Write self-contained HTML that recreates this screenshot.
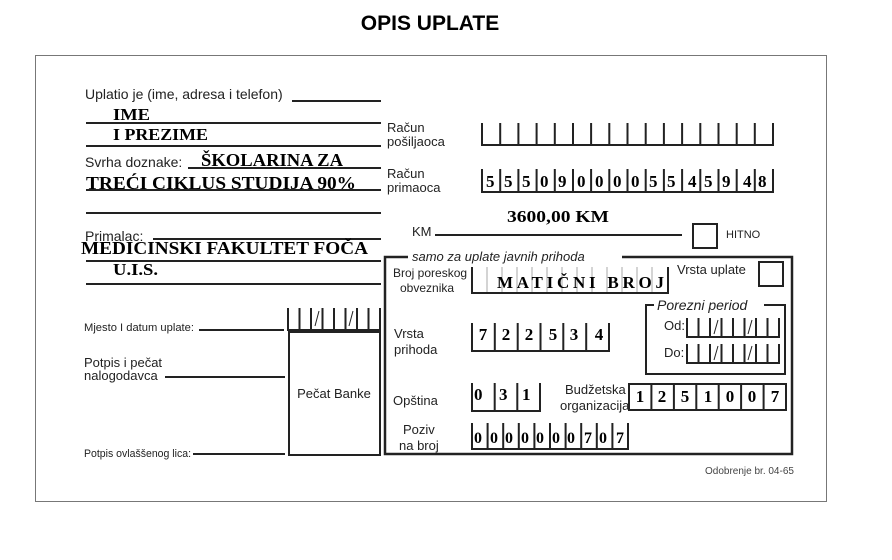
<!DOCTYPE html>
<html><head><meta charset="utf-8"><style>
html,body{margin:0;padding:0;background:#fff;}
svg{display:block;}
text{font-family:"Liberation Sans",sans-serif;fill:#222;}
.s{font-family:"Liberation Serif",serif;font-weight:bold;fill:#000;}
</style></head><body>
<svg width="892" height="560" viewBox="0 0 892 560" xmlns="http://www.w3.org/2000/svg">
<text x="430" y="30" text-anchor="middle" style="font-weight:bold;font-size:21px;fill:#000">OPIS UPLATE</text>
<rect x="35.5" y="55.5" width="791" height="446" fill="none" stroke="#777" stroke-width="1"/>

<g stroke="#222" stroke-width="2" fill="none">
<path d="M292 101H381 M86 123H381 M86 146H381 M188 168H381 M86 190H381 M86 213H381 M153 239H381 M86 261H381 M86 284H381"/>
<path d="M199 330H284 M165 377H285 M193 454H285"/>
<path d="M435 235H682"/>
</g>
<g fill="#222" style="font-size:14px">
<text x="85" y="99">Uplatio je (ime, adresa i telefon)</text>
<text x="85" y="167">Svrha doznake:</text>
<text x="85" y="241">Primalac:</text>
</g>
<g class="s">
<text class="s" x="113" y="120" font-size="17" textLength="37" lengthAdjust="spacingAndGlyphs">IME</text>
<text class="s" x="113" y="140" font-size="17" textLength="95" lengthAdjust="spacingAndGlyphs">I PREZIME</text>
<text class="s" x="201" y="166" font-size="18" textLength="142" lengthAdjust="spacingAndGlyphs">ŠKOLARINA ZA</text>
<text class="s" x="86" y="189" font-size="18" textLength="270" lengthAdjust="spacingAndGlyphs">TREĆI CIKLUS STUDIJA  90%</text>
<text class="s" x="81" y="254" font-size="18" textLength="287" lengthAdjust="spacingAndGlyphs">MEDICINSKI FAKULTET FOČA</text>
<text class="s" x="113" y="275" font-size="17" textLength="45" lengthAdjust="spacingAndGlyphs">U.I.S.</text>
<text class="s" x="507" y="222" font-size="17" textLength="102" lengthAdjust="spacingAndGlyphs">3600,00 KM</text>
</g>

<g style="font-size:13px">
<text x="387" y="132">Račun</text><text x="387" y="146">pošiljaoca</text>
<text x="387" y="178">Račun</text><text x="387" y="192">primaoca</text>
<text x="412" y="236">KM</text>
</g>
<g stroke="#222" stroke-width="2" fill="none">
<path d="M482 123V145H773V123 M500.2 123V145 M518.4 123V145 M536.6 123V145 M554.8 123V145 M573 123V145 M591.1 123V145 M609.3 123V145 M627.5 123V145 M645.7 123V145 M663.9 123V145 M682.1 123V145 M700.3 123V145 M718.5 123V145 M736.7 123V145 M754.8 123V145"/>
<path d="M482 169V192H773V169 M500.2 169V192 M518.4 169V192 M536.6 169V192 M554.8 169V192 M573 169V192 M591.1 169V192 M609.3 169V192 M627.5 169V192 M645.7 169V192 M663.9 169V192 M682.1 169V192 M700.3 169V192 M718.5 169V192 M736.7 169V192 M754.8 169V192"/>
<rect x="693" y="224" width="24" height="24"/>
</g>
<g class="s" font-size="17">
<text class="s" x="486" y="187">5</text><text class="s" x="504" y="187">5</text><text class="s" x="522" y="187">5</text><text class="s" x="540" y="187">0</text><text class="s" x="558" y="187">9</text><text class="s" x="577" y="187">0</text><text class="s" x="595" y="187">0</text><text class="s" x="613" y="187">0</text><text class="s" x="631" y="187">0</text><text class="s" x="649" y="187">5</text><text class="s" x="667" y="187">5</text><text class="s" x="688" y="187">4</text><text class="s" x="704" y="187">5</text><text class="s" x="722" y="187">9</text><text class="s" x="743" y="187">4</text><text class="s" x="758" y="187">8</text>
</g>
<text x="726" y="238" style="font-size:11px">HITNO</text>

<path d="M408 257H385V454H792V257H622" fill="none" stroke="#222" stroke-width="2.5"/>
<text x="412" y="261" style="font-size:13px;font-style:italic">samo za uplate javnih prihoda</text>
<g style="font-size:12px">
<text x="393" y="277">Broj poreskog</text><text x="400" y="292">obveznika</text>
</g>
<g stroke="#aaa" stroke-width="1"><path d="M487 267V293 M502 267V293 M517 267V293 M532 267V293 M547 267V293 M562 267V293 M577 267V293 M592 267V293 M607 267V293 M622 267V293 M637 267V293 M652 267V293"/></g>
<path d="M472 267V293H668V267" fill="none" stroke="#222" stroke-width="2"/>
<text class="s" x="497" y="288" font-size="17" textLength="167" lengthAdjust="spacing">MATIČNI BROJ</text>
<text x="677" y="274" style="font-size:13px">Vrsta uplate</text>
<rect x="759" y="262" width="24" height="24" fill="none" stroke="#222" stroke-width="2"/>

<path d="M654 305H646V374H785V305H764" fill="none" stroke="#222" stroke-width="2"/>
<text x="657" y="310" style="font-size:14px;font-style:italic">Porezni period</text>
<text x="664" y="330" style="font-size:13px">Od:</text>
<text x="664" y="357" style="font-size:13px">Do:</text>
<g stroke="#222" stroke-width="2" fill="none">
<path d="M687 318V337H779V318 M698.5 318V337 M710 318V337 M721.5 318V337 M733 318V337 M744.5 318V337 M756 318V337 M767.5 318V337"/>
<path d="M687 344V363H779V344 M698.5 344V363 M710 344V363 M721.5 344V363 M733 344V363 M744.5 344V363 M756 344V363 M767.5 344V363"/>
<path d="M288 308V330H380V308 M299.5 308V330 M311 308V330 M322.5 308V330 M334 308V330 M345.5 308V330 M357 308V330 M368.5 308V330"/>
</g>
<g stroke="#222" stroke-width="1"><path d="M718 320L714 334 M752 320L748 334 M718 346L714 360 M752 346L748 360 M319 311L315 326 M353 311L349 326"/></g>

<g style="font-size:13px">
<text x="394" y="338">Vrsta</text><text x="394" y="354">prihoda</text>
<text x="393" y="405">Opština</text>
<text x="565" y="394">Budžetska</text><text x="560" y="410">organizacija</text>
<text x="403" y="434">Poziv</text><text x="399" y="450">na broj</text>
</g>
<g stroke="#222" stroke-width="2" fill="none">
<path d="M472 323V351H609V323 M494.8 323V351 M517.7 323V351 M540.5 323V351 M563.3 323V351 M586.2 323V351"/>
<path d="M472 383V411H540V383 M494.7 383V411 M517.3 383V411"/>
<rect x="629" y="384" width="157" height="26"/>
<path d="M651.4 384V410 M673.9 384V410 M696.3 384V410 M718.7 384V410 M741.1 384V410 M763.6 384V410"/>
<path d="M472 423V449H628V423 M487.6 423V449 M503.2 423V449 M518.8 423V449 M534.4 423V449 M550 423V449 M565.6 423V449 M581.2 423V449 M596.8 423V449 M612.4 423V449"/>
</g>
<g font-size="17">
<text class="s" x="483" y="340" text-anchor="middle">7</text><text class="s" x="506" y="340" text-anchor="middle">2</text><text class="s" x="529" y="340" text-anchor="middle">2</text><text class="s" x="553" y="340" text-anchor="middle">5</text><text class="s" x="574" y="340" text-anchor="middle">3</text><text class="s" x="599" y="340" text-anchor="middle">4</text>
<text class="s" x="474" y="400">0</text><text class="s" x="499" y="400">3</text><text class="s" x="522" y="400">1</text>
<text class="s" x="640" y="402" text-anchor="middle">1</text><text class="s" x="662" y="402" text-anchor="middle">2</text><text class="s" x="685" y="402" text-anchor="middle">5</text><text class="s" x="708" y="402" text-anchor="middle">1</text><text class="s" x="730" y="402" text-anchor="middle">0</text><text class="s" x="752" y="402" text-anchor="middle">0</text><text class="s" x="775" y="402" text-anchor="middle">7</text>
</g>
<g font-size="16">
<text class="s" x="474" y="443">0</text><text class="s" x="490" y="443">0</text><text class="s" x="505" y="443">0</text><text class="s" x="521" y="443">0</text><text class="s" x="536" y="443">0</text><text class="s" x="552" y="443">0</text><text class="s" x="567" y="443">0</text><text class="s" x="584" y="443">7</text><text class="s" x="599" y="443">0</text><text class="s" x="616" y="443">7</text>
</g>
<text x="705" y="474" style="font-size:10px;fill:#444">Odobrenje br. 04-65</text>

<g style="font-size:11px">
<text x="84" y="331" textLength="110" lengthAdjust="spacingAndGlyphs">Mjesto I datum uplate:</text>
<text x="84" y="457" textLength="107" lengthAdjust="spacingAndGlyphs">Potpis ovlaššenog lica:</text>
</g>
<g style="font-size:13px">
<text x="84" y="367">Potpis i pečat</text><text x="84" y="380">nalogodavca</text>
</g>
<rect x="289" y="332" width="91" height="123" fill="none" stroke="#222" stroke-width="2"/>
<text x="334" y="398" text-anchor="middle" style="font-size:13px">Pečat Banke</text>
</svg>
</body></html>
